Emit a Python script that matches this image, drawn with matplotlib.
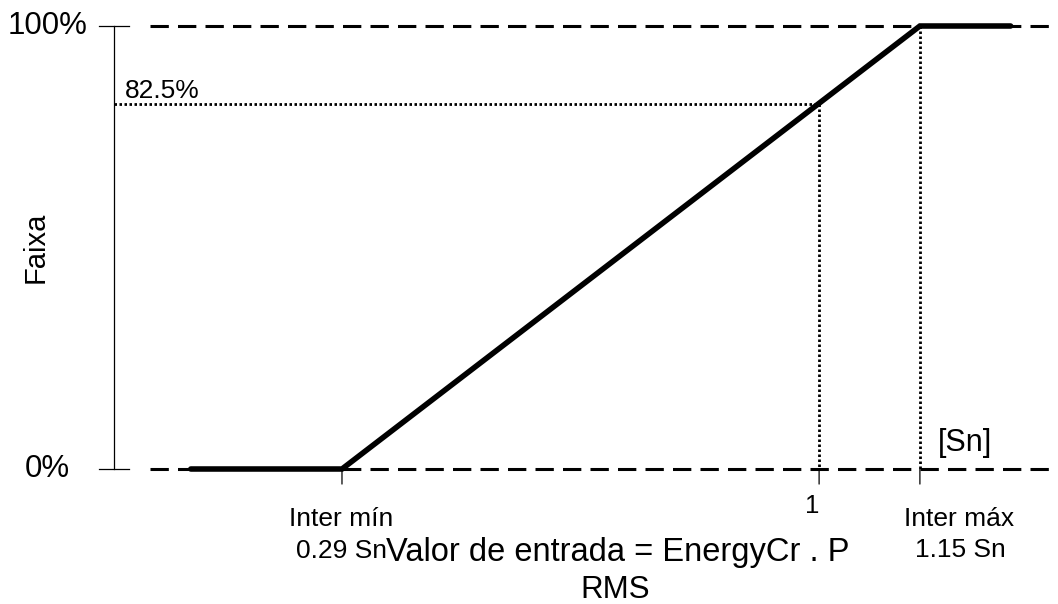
import matplotlib
matplotlib.use("Agg")
import matplotlib.pyplot as plt

plt.rcParams['font.family'] = ['Liberation Sans', 'DejaVu Sans']

# ---- data (input value in Sn, range in %) ----
input_x = [0.065, 0.29, 1.15, 1.285]
faixa_pct = [0, 0, 100, 100]
ref_x = 1.0
ref_pct = 82.5
inter_min = 0.29
inter_max = 1.15
y_ticks = [0, 100]
y_tick_labels = ["0%", "100%"]
x_tick_pos = [0.29, 1.0, 1.15]
axis_x = -0.049
dash_start = 0.004

fig = plt.figure(figsize=(10.58, 6.04), dpi=100)
ax = fig.add_axes([0, 0, 1, 1])
ax.axis('off')
ax.set_xlim(-0.2189, -0.2189 + 1058 / 672)
ax.set_ylim(100 + 26 / 4.43 - 604 / 4.43, 100 + 26 / 4.43)

xmax = ax.get_xlim()[1]
# dashed reference levels
for yv in y_ticks:
    ax.plot([dash_start, xmax], [yv, yv], color='black', lw=2.2,
            ls=(0, (6, 3)), zorder=1)

# y axis with caps
ax.plot([axis_x, axis_x], [y_ticks[0], y_ticks[1]], color='black', lw=0.9)
cap = 0.022
for yv, lab in zip(y_ticks, y_tick_labels):
    ax.plot([axis_x - cap, axis_x + cap], [yv, yv], color='black', lw=0.9)
    ax.annotate(lab, (axis_x, yv), xytext=(-48, 0), textcoords='offset points',
                ha='center', va='center', fontsize=22.5)

# x ticks below zero line
for xv in x_tick_pos:
    ax.annotate('', xy=(xv, 0), xytext=(xv, -3.4),
                arrowprops=dict(arrowstyle='-', color='black', lw=0.9,
                                shrinkA=0, shrinkB=0))

# dotted guides
ax.plot([axis_x, ref_x, ref_x], [ref_pct, ref_pct, 0], color='black', lw=2.0,
        ls=(0, (0.9, 0.9)), zorder=2)
ax.plot([inter_max, inter_max], [100, 0], color='black', lw=2.0,
        ls=(0, (0.9, 0.9)), zorder=2)

# main characteristic
ax.plot(input_x, faixa_pct, color='black', lw=4.0, solid_capstyle='round',
        solid_joinstyle='miter', zorder=3)

# texts
ax.annotate("82.5%", (axis_x, ref_pct), xytext=(8, 4), textcoords='offset points',
            ha='left', va='baseline', fontsize=19)
ax.text(36 / 1058, 1 - 247 / 604, "Faixa", rotation=90, ha='center', va='center',
        fontsize=21, transform=ax.transAxes)
ax.annotate("Inter mín", (inter_min, 0), xytext=(-0.5, -36), textcoords='offset points',
            ha='center', va='center', fontsize=19)
ax.annotate("0.29 Sn", (inter_min, 0), xytext=(0, -59), textcoords='offset points',
            ha='center', va='center', fontsize=19)
ax.annotate("1", (ref_x, 0), xytext=(-5, -26.6), textcoords='offset points',
            ha='center', va='center', fontsize=18.5)
ax.annotate("Inter máx", (inter_max, 0), xytext=(28, -36), textcoords='offset points',
            ha='center', va='center', fontsize=19)
ax.annotate("1.15 Sn", (inter_max, 0), xytext=(29.5, -58), textcoords='offset points',
            ha='center', va='center', fontsize=19)
ax.annotate("[Sn]", (inter_max, 0), xytext=(13, 19), textcoords='offset points',
            ha='left', va='center', fontsize=22)
ax.text(618 / 1058, 1 - 553 / 604, "Valor de entrada = EnergyCr . P",
        ha='center', va='center', fontsize=23.5, transform=ax.transAxes)
ax.text(615 / 1058, 1 - 590 / 604, "RMS", ha='center', va='center',
        fontsize=22.5, transform=ax.transAxes)

fig.savefig("out.png", dpi=100)
